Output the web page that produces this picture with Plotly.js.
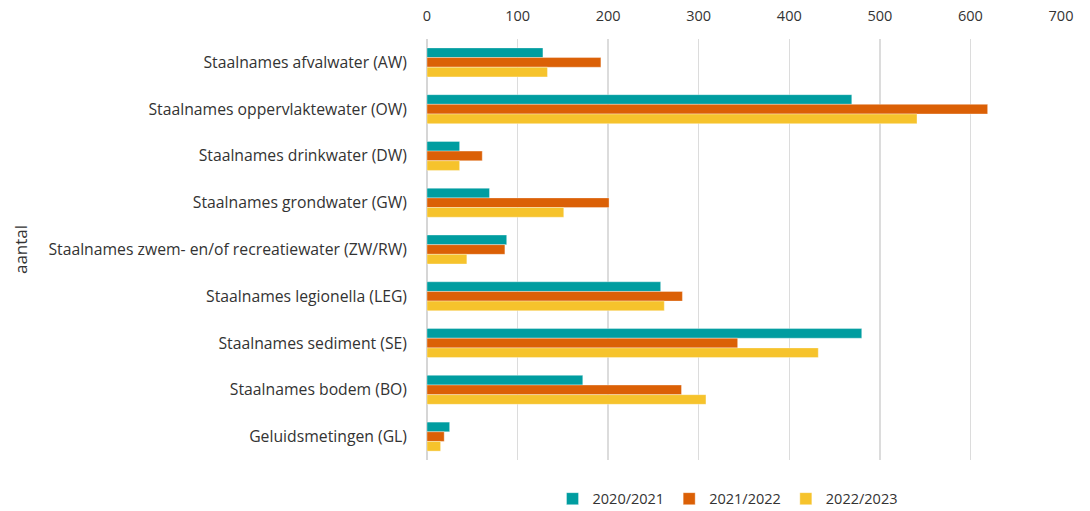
<!DOCTYPE html>
<html>
<head>
<meta charset="utf-8">
<script src="https://cdn.plot.ly/plotly-3.0.1.min.js"></script>
<style>
  html, body { margin: 0; padding: 0; background: #fff; }
  #chart { width: 1090px; height: 511px; }
</style>
</head>
<body>
<div id="chart"></div>
<script>
// categories, top to bottom
const categories = [
    "Staalnames afvalwater (AW)",
    "Staalnames oppervlaktewater (OW)",
    "Staalnames drinkwater (DW)",
    "Staalnames grondwater (GW)",
    "Staalnames zwem- en/of recreatiewater (ZW/RW)",
    "Staalnames legionella (LEG)",
    "Staalnames sediment (SE)",
    "Staalnames bodem (BO)",
    "Geluidsmetingen (GL)"
];

// counts per season
const season2021 = [128, 469, 36, 69, 88, 258, 480, 172, 25];
const season2122 = [192, 619, 61, 201, 86, 282, 343, 281, 19];
const season2223 = [133, 541, 36, 151, 44, 262, 432, 308, 15];

const seriesNames = ["2020/2021", "2021/2022", "2022/2023"];
const seriesColors = ["#009DA0", "#DB6006", "#F6C32C"];
const seriesData = [season2021, season2122, season2223];

const xTicks = [0, 100, 200, 300, 400, 500, 600, 700];

const fontFamily = "'Open Sans', sans-serif";
const textColor = "#333333";

let traces = [];
for (let i = 0; i < seriesData.length; i++) {
    traces.push({
        type: 'bar',
        orientation: 'h',
        y: categories,
        x: seriesData[i],
        name: seriesNames[i],
        marker: {
            color: seriesColors[i],
            line: {color: 'rgba(255,255,255,0.35)', width: 1}
        },
        hoverinfo: 'x+name'
    });
}

const layout = {
    width: 1090,
    height: 511,
    margin: {l: 427, r: 29, t: 38.5, b: 50.5},
    paper_bgcolor: '#ffffff',
    plot_bgcolor: '#ffffff',
    font: {family: fontFamily, size: 15.75, color: textColor},
    barmode: 'group',
    bargap: 0.38,
    bargroupgap: 0,
    showlegend: true,
    legend: {
        orientation: 'h',
        x: 0.474,
        xanchor: 'center',
        yref: 'container',
        y: 0.024,
        yanchor: 'middle',
        traceorder: 'normal',
        font: {family: fontFamily, size: 14.5, color: textColor},
        itemwidth: 30
    },
    xaxis: {
        side: 'top',
        range: [0, 700],
        tickvals: xTicks,
        ticktext: xTicks.map(String),
        showgrid: true,
        gridcolor: '#dcdcdc',
        gridwidth: 1.5,
        zeroline: true,
        zerolinecolor: '#d6d6d6',
        zerolinewidth: 2,
        showline: false,
        ticks: '',
        ticklabelstandoff: 14,
        tickfont: {family: fontFamily, size: 14.5, color: textColor},
        fixedrange: true
    },
    yaxis: {
        type: 'category',
        autorange: 'reversed',
        showgrid: false,
        zeroline: false,
        showline: false,
        ticks: '',
        ticklabelstandoff: 19,
        tickfont: {family: fontFamily, size: 15.75, color: textColor},
        title: {
            text: 'aantal',
            standoff: 16,
            font: {family: fontFamily, size: 17, color: textColor}
        },
        automargin: false,
        fixedrange: true
    }
};

Plotly.newPlot('chart', traces, layout, {displayModeBar: false, staticPlot: true});
</script>
</body>
</html>
